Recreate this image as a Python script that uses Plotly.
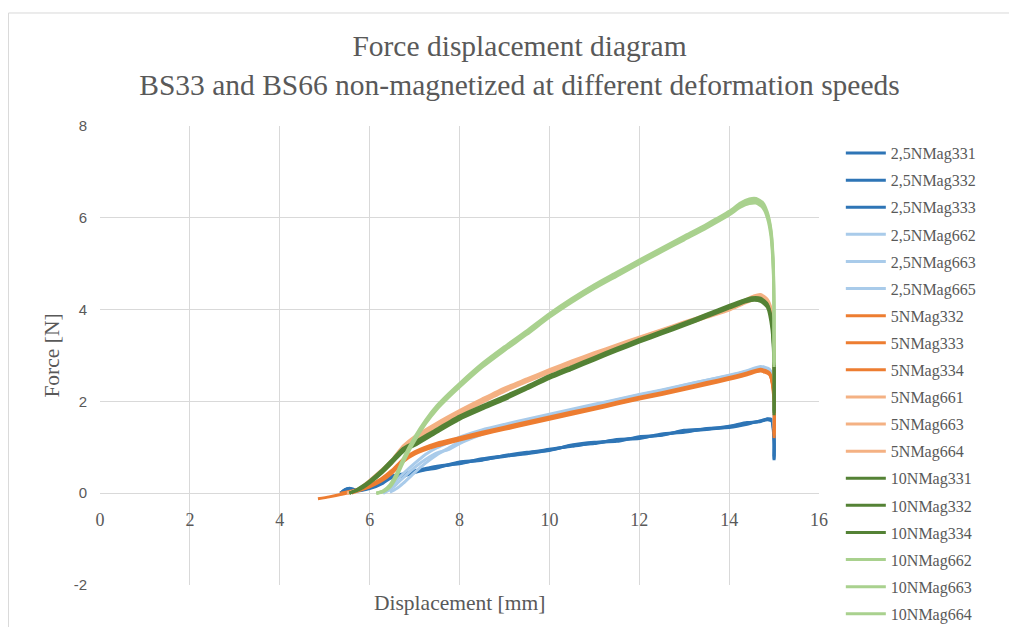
import plotly.graph_objects as go

# ---------------- data ----------------
# 2,5 N/min, BS33 (dark blue)
X_25_33 = [5.35, 5.45, 5.55, 5.7, 6.0, 6.3, 6.45, 6.75, 7.0, 7.25, 7.5, 7.75, 8.0, 8.5, 9.0, 9.5, 10.0,
           10.5, 11.0, 11.5, 12.0, 12.5, 13.0, 13.5, 14.0, 14.4, 14.7, 14.85, 14.95, 15.0, 15.0]
Y_25NMag331 = [0.0, 0.08, 0.10, 0.06, 0.12, 0.25, 0.35, 0.40, 0.47, 0.52, 0.57, 0.61, 0.66, 0.73, 0.80, 0.88, 0.96,
               1.02, 1.10, 1.15, 1.21, 1.27, 1.35, 1.39, 1.45, 1.52, 1.57, 1.60, 1.58, 1.20, 0.72]
Y_25NMag332 = [0.0, 0.06, 0.09, 0.05, 0.10, 0.22, 0.32, 0.37, 0.45, 0.51, 0.55, 0.62, 0.64, 0.75, 0.81, 0.86, 0.94,
               1.04, 1.08, 1.17, 1.19, 1.29, 1.33, 1.41, 1.43, 1.50, 1.58, 1.61, 1.57, 1.10, 0.80]
Y_25NMag333 = [0.0, 0.07, 0.11, 0.07, 0.13, 0.27, 0.37, 0.42, 0.49, 0.54, 0.59, 0.62, 0.68, 0.72, 0.82, 0.89, 0.93,
               1.05, 1.11, 1.13, 1.23, 1.26, 1.37, 1.40, 1.46, 1.54, 1.56, 1.62, 1.60, 1.25, 0.75]

# 2,5 N/min, BS66 (light blue)
X_25_66 = [6.3, 6.45, 6.6, 6.75, 7.0, 7.25, 7.5, 7.75, 8.0, 8.5, 9.0, 9.5, 10.0, 10.5, 11.0, 11.5, 12.0,
           12.5, 13.0, 13.5, 14.0, 14.4, 14.7, 14.9, 15.0, 15.0]
Y_25NMag662 = [0.0, 0.12, 0.28, 0.43, 0.65, 0.85, 0.99, 1.10, 1.22, 1.38, 1.50, 1.61, 1.72, 1.83, 1.94, 2.04, 2.15,
               2.25, 2.36, 2.46, 2.57, 2.67, 2.76, 2.70, 2.30, 1.50]
Y_25NMag663 = [0.0, 0.08, 0.20, 0.34, 0.56, 0.74, 0.88, 0.95, 1.08, 1.28, 1.44, 1.57, 1.68, 1.80, 1.91, 2.02, 2.13,
               2.23, 2.34, 2.45, 2.55, 2.66, 2.74, 2.68, 2.20, 1.40]
Y_25NMag665 = [None, 0.02, 0.10, 0.22, 0.45, 0.66, 0.84, 0.98, 1.12, 1.30, 1.46, 1.58, 1.70, 1.81, 1.92, 2.03, 2.14,
               2.24, 2.35, 2.46, 2.56, 2.65, 2.72, 2.66, 2.10, 1.45]

# 5 N/min, BS33 (orange)
X_5_33 = [4.85, 5.1, 5.35, 5.6, 5.8, 6.0, 6.25, 6.5, 6.75, 7.0, 7.5, 8.0, 8.5, 9.0, 9.5, 10.0, 10.5,
          11.0, 11.5, 12.0, 12.5, 13.0, 13.5, 14.0, 14.4, 14.7, 14.9, 15.0, 15.0]
Y_5NMag332 = [-0.12, -0.08, -0.03, 0.03, 0.08, 0.15, 0.28, 0.47, 0.72, 0.88, 1.06, 1.18, 1.30, 1.41, 1.52, 1.63, 1.74,
              1.85, 1.96, 2.07, 2.17, 2.28, 2.39, 2.50, 2.60, 2.68, 2.60, 2.10, 1.20]
Y_5NMag333 = [None, None, 0.0, 0.05, 0.10, 0.18, 0.31, 0.50, 0.74, 0.90, 1.09, 1.21, 1.33, 1.44, 1.55, 1.66, 1.77,
              1.87, 1.98, 2.09, 2.19, 2.30, 2.41, 2.52, 2.62, 2.70, 2.62, 2.00, 1.30]
Y_5NMag334 = [None, None, None, 0.0, 0.07, 0.14, 0.26, 0.44, 0.69, 0.85, 1.03, 1.16, 1.28, 1.39, 1.50, 1.61, 1.72,
              1.83, 1.94, 2.05, 2.15, 2.26, 2.37, 2.48, 2.58, 2.66, 2.58, 2.20, 1.25]

# 5 N/min, BS66 (light orange)
X_5_66 = [5.5, 5.75, 6.0, 6.25, 6.5, 6.75, 7.0, 7.5, 8.0, 8.5, 9.0, 9.5, 10.0, 10.5, 11.0, 11.5, 12.0,
          12.5, 13.0, 13.5, 14.0, 14.3, 14.55, 14.7, 14.85, 14.95, 15.0, 15.0]
Y_5NMag661 = [0.0, 0.08, 0.26, 0.46, 0.70, 1.00, 1.20, 1.50, 1.77, 2.02, 2.26, 2.46, 2.66, 2.85, 3.03, 3.20, 3.37,
              3.53, 3.70, 3.86, 4.03, 4.15, 4.26, 4.30, 4.20, 3.90, 3.20, 2.50]
Y_5NMag663 = [0.0, 0.07, 0.23, 0.43, 0.66, 0.96, 1.16, 1.46, 1.73, 1.98, 2.22, 2.43, 2.63, 2.82, 3.00, 3.17, 3.34,
              3.50, 3.67, 3.83, 3.99, 4.12, 4.22, 4.25, 4.15, 3.80, 3.00, 2.40]
Y_5NMag664 = [0.0, 0.09, 0.28, 0.49, 0.73, 1.03, 1.23, 1.53, 1.80, 2.05, 2.29, 2.49, 2.69, 2.88, 3.06, 3.23, 3.40,
              3.56, 3.73, 3.89, 4.06, 4.18, 4.30, 4.33, 4.22, 3.95, 3.30, 2.60]

# 10 N/min, BS33 (dark green)
X_10_33 = [5.55, 5.7, 5.85, 6.0, 6.25, 6.5, 6.75, 7.0, 7.5, 8.0, 8.5, 9.0, 9.5, 10.0, 10.5, 11.0, 11.5,
           12.0, 12.5, 13.0, 13.5, 14.0, 14.3, 14.5, 14.7, 14.85, 14.95, 15.0, 15.0]
Y_10NMag331 = [0.0, 0.06, 0.14, 0.25, 0.45, 0.70, 0.95, 1.08, 1.37, 1.65, 1.87, 2.08, 2.30, 2.53, 2.73, 2.93, 3.13,
               3.32, 3.50, 3.68, 3.87, 4.06, 4.18, 4.24, 4.22, 4.10, 3.70, 2.80, 1.70]
Y_10NMag332 = [0.0, 0.05, 0.12, 0.22, 0.42, 0.66, 0.91, 1.04, 1.33, 1.61, 1.83, 2.04, 2.27, 2.50, 2.70, 2.90, 3.10,
               3.29, 3.47, 3.65, 3.84, 4.03, 4.15, 4.20, 4.18, 4.05, 3.60, 2.70, 1.80]
Y_10NMag334 = [0.0, 0.07, 0.16, 0.27, 0.48, 0.73, 0.98, 1.11, 1.40, 1.68, 1.90, 2.11, 2.33, 2.56, 2.76, 2.96, 3.16,
               3.35, 3.53, 3.71, 3.90, 4.09, 4.20, 4.26, 4.25, 4.12, 3.75, 2.90, 1.75]

# 10 N/min, BS66 (light green)
X_10_66 = [6.15, 6.3, 6.45, 6.6, 6.75, 7.0, 7.25, 7.5, 7.75, 8.0, 8.5, 9.0, 9.5, 10.0, 10.5, 11.0, 11.5,
           12.0, 12.5, 13.0, 13.5, 14.0, 14.25, 14.45, 14.6, 14.75, 14.85, 14.93, 14.98, 15.0, 15.0]
Y_10NMag662 = [0.0, 0.04, 0.16, 0.40, 0.72, 1.18, 1.56, 1.87, 2.12, 2.35, 2.78, 3.15, 3.50, 3.87, 4.20, 4.50, 4.77,
               5.04, 5.30, 5.56, 5.82, 6.10, 6.27, 6.36, 6.37, 6.28, 6.08, 5.70, 5.00, 3.90, 2.80]
Y_10NMag663 = [0.0, 0.03, 0.13, 0.36, 0.68, 1.14, 1.52, 1.83, 2.08, 2.31, 2.74, 3.11, 3.46, 3.83, 4.16, 4.46, 4.73,
               5.00, 5.26, 5.52, 5.78, 6.06, 6.23, 6.31, 6.32, 6.22, 6.00, 5.60, 4.90, 3.80, 2.85]
Y_10NMag664 = [0.0, 0.05, 0.18, 0.43, 0.76, 1.22, 1.60, 1.91, 2.16, 2.39, 2.82, 3.19, 3.54, 3.91, 4.24, 4.54, 4.81,
               5.08, 5.34, 5.60, 5.86, 6.14, 6.32, 6.41, 6.42, 6.33, 6.12, 5.75, 5.10, 4.00, 2.75]

SERIES = [
    ("2,5NMag331", X_25_33, Y_25NMag331, "#2E75B6"),
    ("2,5NMag332", X_25_33, Y_25NMag332, "#2E75B6"),
    ("2,5NMag333", X_25_33, Y_25NMag333, "#2E75B6"),
    ("2,5NMag662", X_25_66, Y_25NMag662, "#A9CBEA"),
    ("2,5NMag663", X_25_66, Y_25NMag663, "#A9CBEA"),
    ("2,5NMag665", X_25_66, Y_25NMag665, "#A9CBEA"),
    ("5NMag332", X_5_33, Y_5NMag332, "#ED7D31"),
    ("5NMag333", X_5_33, Y_5NMag333, "#ED7D31"),
    ("5NMag334", X_5_33, Y_5NMag334, "#ED7D31"),
    ("5NMag661", X_5_66, Y_5NMag661, "#F4B183"),
    ("5NMag663", X_5_66, Y_5NMag663, "#F4B183"),
    ("5NMag664", X_5_66, Y_5NMag664, "#F4B183"),
    ("10NMag331", X_10_33, Y_10NMag331, "#548235"),
    ("10NMag332", X_10_33, Y_10NMag332, "#548235"),
    ("10NMag334", X_10_33, Y_10NMag334, "#548235"),
    ("10NMag662", X_10_66, Y_10NMag662, "#A9D18E"),
    ("10NMag663", X_10_66, Y_10NMag663, "#A9D18E"),
    ("10NMag664", X_10_66, Y_10NMag664, "#A9D18E"),
]

X_TICKS = [0, 2, 4, 6, 8, 10, 12, 14, 16]
Y_TICKS = [-2, 0, 2, 4, 6, 8]
Y_TICK_LABELS = ["-2", "0", "2", "4", "6", "8"]

TITLE = "Force displacement diagram<br>BS33 and BS66 non-magnetized at different deformation speeds"
X_TITLE = "Displacement [mm]"
Y_TITLE = "Force [N]"

# ---------------- figure ----------------
fig = go.Figure()
for i, (name, xs, ys, color) in enumerate(SERIES):
    fig.add_trace(go.Scatter(
        x=xs, y=ys, name=name, mode="lines",
        line=dict(color=color, width=3, shape="spline", smoothing=0.6),
        legendgroup=f"g{i}",
    ))

GRID = "#D9D9D9"
TXT = "#595959"
SERIF = "Liberation Serif"

fig.update_layout(
    width=1001, height=619,
    paper_bgcolor="white", plot_bgcolor="white",
    margin=dict(l=92, r=190, t=118, b=42, autoexpand=False),
    title=dict(text=TITLE, x=0.511, xanchor="center", y=0.922, yanchor="middle",
               font=dict(family=SERIF, size=29.5, color=TXT)),
    showlegend=True,
    legend=dict(xref="container", yref="container", x=0.832, xanchor="left", y=0.793, yanchor="top",
                maxheight=560, itemwidth=40,
                font=dict(family=SERIF, size=16, color=TXT),
                traceorder="grouped", tracegroupgap=3.3,
                bgcolor="rgba(0,0,0,0)"),
    xaxis=dict(range=[0, 16], tickvals=X_TICKS, showgrid=True, gridcolor=GRID, gridwidth=1,
               zeroline=False, showline=False, ticks="",
               anchor="free", position=0.2, ticklabelstandoff=14,
               tickfont=dict(family=SERIF, size=18, color=TXT)),
    yaxis=dict(range=[-2, 8], tickvals=Y_TICKS, ticktext=Y_TICK_LABELS,
               showgrid=True, gridcolor=GRID, gridwidth=1,
               zeroline=True, zerolinecolor=GRID, zerolinewidth=1, showline=False, ticks="",
               ticklabelstandoff=12,
               tickfont=dict(family="Liberation Sans", size=15, color=TXT)),
    annotations=[
        dict(text=X_TITLE, xref="paper", yref="paper", x=0.5, y=-0.039, xanchor="center", yanchor="middle",
             showarrow=False, font=dict(family=SERIF, size=21.5, color=TXT)),
        dict(text=Y_TITLE, xref="paper", yref="paper", x=-0.068, y=0.5, xanchor="center", yanchor="middle",
             textangle=-90, showarrow=False, font=dict(family=SERIF, size=21.5, color=TXT)),
    ],
    shapes=[
        dict(type="line", xref="paper", yref="paper", x0=-0.1273, x1=1.3, y0=1.2462, y1=1.2462,
             line=dict(color="#D9D9D9", width=1)),
        dict(type="line", xref="paper", yref="paper", x0=-0.1273, x1=-0.1273, y0=1.2462, y1=-0.2,
             line=dict(color="#D9D9D9", width=1)),
    ],
)

fig.write_html("out.html")
